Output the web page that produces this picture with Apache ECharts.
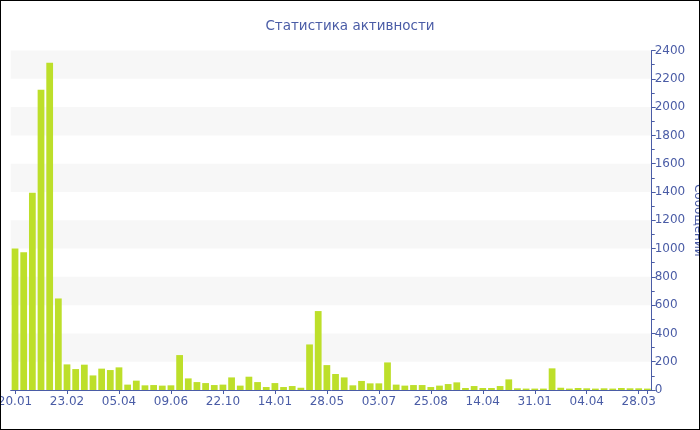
<!DOCTYPE html>
<html>
<head>
<meta charset="utf-8">
<script src="https://cdn.jsdelivr.net/npm/echarts@6/dist/echarts.min.js"></script>
<style>
html,body{margin:0;padding:0;background:#fff;}
#chart{position:absolute;left:0;top:0;width:700px;height:430px;}
#frame{position:absolute;left:0;top:0;width:700px;height:430px;box-sizing:border-box;border:1px solid #000;pointer-events:none;}
</style>
</head>
<body>
<div id="chart"></div>
<div id="frame"></div>
<script>
// Tick labels shown on the x axis (every 6th category)
const shownLabels = ['20.01','23.02','05.04','09.06','22.10','14.01','28.05','03.07','25.08','14.04','31.01','04.04','28.03'];
const labelStep = 6;
// Message counts per period
const messages = [
  1000, 974, 1395, 2122, 2313, 647, 181, 148, 179, 103,
  151, 141, 160, 38, 66, 33, 35, 31, 33, 247,
  82, 56, 49, 35, 38, 89, 31, 94, 56, 21,
  49, 21, 28, 16, 322, 558, 176, 113, 89, 33,
  64, 47, 47, 195, 38, 31, 35, 35, 21, 31,
  42, 54, 14, 28, 14, 14, 28, 75, 12, 10,
  10, 10, 153, 16, 10, 14, 12, 10, 12, 10,
  14, 12, 12, 10
];
const titleText = 'Статистика активности';
const yName = 'Сообщений';

// categories: known labels at every 6th slot, unknown dates left blank
const categories = messages.map((_, i) => (i % labelStep === 0 && shownLabels[i / labelStep]) ? shownLabels[i / labelStep] : '');

const blue = '#4a5ca6';
const chart = echarts.init(document.getElementById('chart'), null, {renderer: 'canvas'});
chart.setOption({
  animation: false,
  title: {
    text: titleText,
    left: 'center',
    top: 14,
    textStyle: {color: blue, fontSize: 13.5, fontWeight: 'normal', fontFamily: 'DejaVu Sans'}
  },
  grid: {left: 10.7, right: 48.3, top: 50.5, bottom: 40, containLabel: false, outerBoundsMode: 'none'},
  xAxis: {
    type: 'category',
    data: categories,
    boundaryGap: true,
    axisLine: {lineStyle: {color: blue, width: 1}},
    axisTick: {show: true, alignWithLabel: true, interval: labelStep - 1, length: 4, lineStyle: {color: blue}},
    axisLabel: {interval: labelStep - 1, color: blue, fontSize: 12, fontFamily: 'DejaVu Sans', margin: 6, showMinLabel: true, showMaxLabel: true, hideOverlap: false},
    splitLine: {show: false}
  },
  yAxis: {
    type: 'value',
    position: 'right',
    min: 0,
    max: 2400,
    interval: 200,
    name: yName,
    nameLocation: 'middle',
    nameRotate: -90,
    nameGap: 40,
    nameMoveOverlap: false,
    nameTextStyle: {color: blue, fontSize: 12, fontFamily: 'DejaVu Sans'},
    axisLine: {show: true, lineStyle: {color: blue, width: 1}},
    axisTick: {show: true, length: 4, lineStyle: {color: blue}},
    minorTick: {show: true, splitNumber: 2, length: 3, lineStyle: {color: blue}},
    axisLabel: {color: blue, fontSize: 12, fontFamily: 'DejaVu Sans', margin: 3, formatter: v => String(v)},
    splitLine: {show: false},
    splitArea: {show: true, areaStyle: {color: ['rgba(255,255,255,0)', '#f7f7f7']}}
  },
  series: [{
    type: 'bar',
    data: messages,
    barCategoryGap: '22%',
    itemStyle: {color: '#bddf2a'}
  }]
});
</script>
</body>
</html>
